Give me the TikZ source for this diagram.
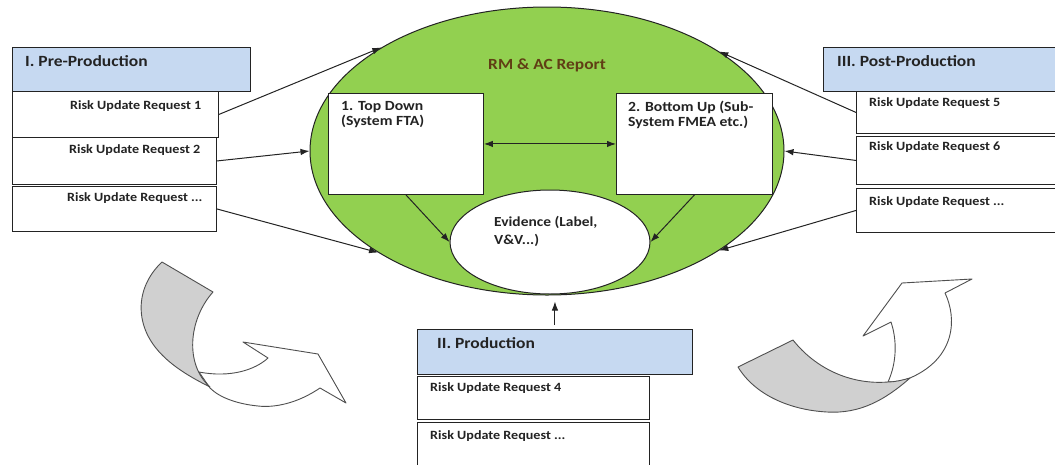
\documentclass[tikz,border=0pt]{standalone}
\usepackage{fontspec}
\setmainfont{Carlito}[FakeStretch=1.12]
\usetikzlibrary{shapes.geometric,arrows.meta,calc}
\definecolor{headblue}{RGB}{198,217,241}
\definecolor{ovalgreen}{RGB}{146,208,80}
\definecolor{reportbrown}{RGB}{96,62,20}
\definecolor{flapgray}{RGB}{208,208,208}
\definecolor{ink}{RGB}{35,35,35}
\begin{document}
\begin{tikzpicture}[x=1pt,y=-1pt,
  box/.style={draw=ink,line width=0.9pt,fill=white,inner sep=0pt,anchor=north west},
  head/.style={box,fill=headblue},
  lbl/.style={anchor=west,inner sep=0pt,text=ink,font=\bfseries\fontsize{12.6}{14}\selectfont},
  hlbl/.style={anchor=west,inner sep=0pt,text=ink,font=\bfseries\fontsize{15.6}{18}\selectfont},
  inlbl/.style={anchor=west,inner sep=0pt,align=left,text=ink,font=\bfseries\fontsize{14}{15}\selectfont},
  arr/.style={-{Latex[length=9pt,width=6.5pt]},line width=1pt,draw=ink},
  darr/.style={{Latex[length=9pt,width=6.5pt]}-{Latex[length=9pt,width=6.5pt]},line width=1pt,draw=ink},
  swoosh/.style={draw=ink!80,line width=0.9pt,line join=round},
]
\useasboundingbox (0,0) rectangle (1055,464);
\clip (0,0) rectangle (1055,464);

% central report oval with the two analysis boxes and the evidence oval
\node[ellipse,draw=ink,line width=1pt,fill=ovalgreen,minimum width=474pt,minimum height=288pt,inner sep=0pt] (rm) at (547,151) {};
\node[text=reportbrown,font=\bfseries\fontsize{15.5}{17}\selectfont,inner sep=0pt] (rmt) at (547,65) {RM \& AC Report};
\node[box,minimum width=155pt,minimum height=101pt] (td) at (328,93) {};
\node[box,minimum width=156pt,minimum height=101pt] (bu) at (616,93) {};
\node[inlbl] (tdt) at (341,115) {1. Top Down\\(System FTA)};
\node[inlbl] (but) at (628,115) {2. Bottom Up (Sub-\\System FMEA etc.)};
\node[ellipse,draw=ink,line width=1pt,fill=white,minimum width=200pt,minimum height=104pt,inner sep=0pt] (ev) at (550,242) {};
\node[inlbl,font=\bfseries\fontsize{13.8}{18}\selectfont] (evt) at (494,231) {Evidence (Label,\\V\&V...)};

% pre-production
\node[head,minimum width=238pt,minimum height=44pt] (h1) at (12,47) {};
\node[box,minimum width=206pt,minimum height=46pt] (b1) at (12,91) {};
\node[box,minimum width=204pt,minimum height=47pt] (b2) at (12,137) {};
\node[box,minimum width=204pt,minimum height=45pt] (b3) at (12,186) {};
\node[hlbl] (h1t) at (25,61) {I. Pre-Production};
\node[lbl] (b1t) at (70,106) {Risk Update Request 1};
\node[lbl] (b2t) at (69,150) {Risk Update Request 2};
\node[lbl] (b3t) at (67,198) {Risk Update Request ...};

% post-production
\node[head,minimum width=250pt,minimum height=44pt] (h3) at (823,47) {};
\node[box,minimum width=220pt,minimum height=42pt] (b5) at (856,91) {};
\node[box,minimum width=220pt,minimum height=48pt] (b6) at (856,136) {};
\node[box,minimum width=220pt,minimum height=44pt] (b7) at (856,188) {};
\node[hlbl] (h3t) at (837,61) {III. Post-Production};
\node[lbl] (b5t) at (869,103) {Risk Update Request 5};
\node[lbl] (b6t) at (869,147) {Risk Update Request 6};
\node[lbl] (b7t) at (869,202) {Risk Update Request ...};

% production
\node[head,minimum width=275pt,minimum height=45pt] (h2) at (417,329) {};
\node[box,minimum width=232pt,minimum height=43pt] (b4) at (417,376) {};
\node[box,minimum width=232pt,minimum height=50pt] (b8) at (417,422) {};
\node[hlbl] (h2t) at (437,343) {II. Production};
\node[lbl] (b4t) at (430,388) {Risk Update Request 4};
\node[lbl] (b8t) at (430,436) {Risk Update Request ...};

% request flows into the report
\draw[arr] (b1.east) -- (rm.148.8);
\draw[arr] (b2.east) -- (rm.west);
\draw[arr] (b3.east) -- (rm.211.2);
\draw[arr] (b5.west) -- (rm.30.3);
\draw[arr] (b6.west) -- (rm.east);
\draw[arr] (b7.west) -- (rm.-30.3);
\draw[arr] ([yshift=4pt]h2.north) -- ([yshift=-6pt]h2.north |- rm.south);
\draw[darr] (td.east) -- (bu.west);
\draw[arr] (td.south) -- (ev.west);
\draw[arr] (bu.south) -- (ev.east);

% left curved arrow
\draw[swoosh,fill=white] (199,372) .. controls (230,378) and (255,370) .. (268,358)
  -- (243,342) -- (318,354) -- (346,403) -- (320,388)
  .. controls (298,403) and (275,408) .. (258,406)
  .. controls (238,404) and (220,398) .. (210,388) -- cycle;
\draw[swoosh,fill=flapgray] (162,262) -- (213,292)
  .. controls (188,320) and (185,365) .. (210,387)
  .. controls (180,372) and (148,352) .. (142,318)
  .. controls (138,295) and (148,275) .. (162,262) -- cycle;

% right curved arrow
\draw[swoosh,fill=white] (888,382) .. controls (897,362) and (897,340) .. (891,322)
  -- (863,336) -- (902,283) -- (972,279) -- (945,293)
  .. controls (957,318) and (956,358) .. (910,378)
  .. controls (903,381) and (895,382) .. (888,382) -- cycle;
\draw[swoosh,fill=flapgray] (738,367) -- (793,340)
  .. controls (815,368) and (850,385) .. (888,382)
  .. controls (895,382) and (903,380) .. (910,378)
  .. controls (885,400) and (860,414) .. (827,412)
  .. controls (790,410) and (755,395) .. (738,367) -- cycle;
\end{tikzpicture}
\end{document}
